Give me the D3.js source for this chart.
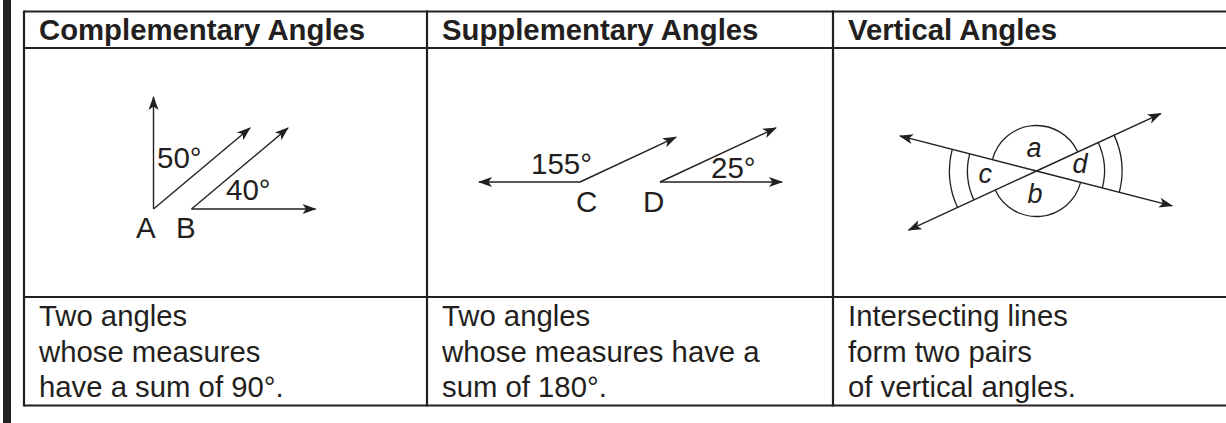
<!DOCTYPE html>
<meta charset="utf-8">
<head>
<style>
  body { margin: 0; background: #fff; }
  svg text { font-family: "Liberation Sans", Arial, sans-serif; fill: #231f20; }
</style>
</head>
<body>
<script src="https://d3js.org/d3.v7.min.js"></script>
<div id="my_dataviz"></div>

<script>
    // table content
    var headers = ["Complementary Angles", "Supplementary Angles", "Vertical Angles"];
    var descriptions = [
      ["Two angles", "whose measures", "have a sum of 90°."],
      ["Two angles", "whose measures have a", "sum of 180°."],
      ["Intersecting lines", "form two pairs", "of vertical angles."]
    ];

    // angle measures shown in the pictures (degrees)
    var complementary = [50, 40];
    var supplementary = [155, 25];
    var verticalLines = [165.6, 24.8];   // direction of the two crossing lines
    var vertLabels = ["a", "b", "c", "d"];

    var width = 1226, height = 423;
    var ink = "#231f20";

    var svg = d3.select("#my_dataviz")
      .append("svg")
        .attr("width", width)
        .attr("height", height);

    // table frame
    var colX = d3.scaleOrdinal().domain([0, 1, 2, 3]).range([24, 427, 833, 1232]);
    var rowY = d3.scaleOrdinal().domain(["top", "head", "desc", "bottom"]).range([11.5, 48, 297, 405.5]);

    // left black bar
    svg.append("rect")
      .attr("x", 3).attr("y", 0)
      .attr("width", 8).attr("height", height)
      .attr("fill", ink);

    var frame = svg.append("g").attr("stroke", ink).attr("stroke-width", 2.2);
    ["top", "head", "desc", "bottom"].forEach(function(r) {
      frame.append("line")
        .attr("x1", colX(0)).attr("x2", colX(3))
        .attr("y1", rowY(r)).attr("y2", rowY(r));
    });
    [0, 1, 2].forEach(function(c) {
      frame.append("line")
        .attr("x1", colX(c)).attr("x2", colX(c))
        .attr("y1", rowY("top") - 1).attr("y2", rowY("bottom") + 1);
    });

    // headers
    svg.selectAll(".head")
      .data(headers)
      .enter().append("text")
        .attr("class", "head")
        .attr("x", function(d, i) { return colX(i) + 15; })
        .attr("y", 40)
        .attr("font-size", "29.3px")
        .attr("font-weight", "bold")
        .text(function(d) { return d; });

    // descriptions
    descriptions.forEach(function(lines, i) {
      svg.selectAll(".desc" + i)
        .data(lines)
        .enter().append("text")
          .attr("x", colX(i) + 15)
          .attr("y", function(d, j) { return 326 + j * 35.5; })
          .attr("font-size", "29.3px")
          .text(function(d) { return d; });
    });

    // arrow marker
    svg.append("defs").append("marker")
      .attr("id", "arrow")
      .attr("viewBox", "-14 -6 16 12")
      .attr("refX", 0).attr("refY", 0)
      .attr("markerWidth", 16).attr("markerHeight", 12)
      .attr("markerUnits", "userSpaceOnUse")
      .attr("orient", "auto")
      .append("path")
        .attr("d", "M1,0 L-13,-5 L-9.5,0 L-13,5 Z")
        .attr("fill", ink);

    var rad = function(deg) { return deg * Math.PI / 180; };
    var line = d3.line();

    // draw a ray from a vertex at a given angle (deg, math direction) and length
    function ray(g, vx, vy, deg, len) {
      g.append("path")
        .attr("d", line([[vx, vy], [vx + len * Math.cos(rad(deg)), vy - len * Math.sin(rad(deg))]]))
        .attr("fill", "none")
        .attr("stroke", ink)
        .attr("stroke-width", 1.4)
        .attr("marker-end", "url(#arrow)");
    }

    function label(g, x, y, txt, italic) {
      g.append("text")
        .attr("x", x).attr("y", y)
        .attr("font-size", italic ? "27px" : "29.5px")
        .attr("font-style", italic ? "italic" : null)
        .text(txt);
    }

    // ---- Complementary ----
    var g1 = svg.append("g");
    var A = [153.5, 209], B = [191.5, 209];
    ray(g1, A[0], A[1], 90, 112);
    ray(g1, A[0], A[1], complementary[1], 126);
    ray(g1, B[0], B[1], complementary[1], 126);
    ray(g1, B[0], B[1], 0, 124);
    label(g1, 157, 168, complementary[0] + "°");
    label(g1, 226, 200, complementary[1] + "°");
    label(g1, 136, 238, "A");
    label(g1, 176, 238, "B");

    // ---- Supplementary ----
    var g2 = svg.append("g");
    var C = [580, 182], D = [660, 182];
    ray(g2, C[0], C[1], 180, 101);
    ray(g2, C[0], C[1], 180 - supplementary[0], 106);
    ray(g2, D[0], D[1], supplementary[1], 128);
    ray(g2, D[0], D[1], 0, 122);
    label(g2, 531, 174, supplementary[0] + "°");
    label(g2, 711, 178, supplementary[1] + "°");
    label(g2, 576, 212, "C");
    label(g2, 643, 212, "D");

    // ---- Vertical ----
    var g3 = svg.append("g").attr("transform", "translate(1036.5,171)");
    var l1 = verticalLines[0], l2 = verticalLines[1];
    ray(g3, 0, 0, l1, 141);
    ray(g3, 0, 0, l1 + 180, 140);
    ray(g3, 0, 0, l2, 137);
    ray(g3, 0, 0, l2 + 180, 141);

    // d3.arc angles: 0 = up, clockwise
    var toArc = function(deg) { return rad(90 - deg); };
    var arc = d3.arc();
    var arcs = [
      {r: 45.5, from: l2, to: l1},                 // a
      {r: 45.5, from: l2 + 180, to: l1 + 180},     // b
      {r: 69, from: l1, to: l2 + 180},             // c inner
      {r: 87, from: l1, to: l2 + 180},             // c outer
      {r: 68, from: l1 - 180, to: l2},             // d inner
      {r: 85.5, from: l1 - 180, to: l2}            // d outer
    ];
    g3.selectAll(".arc")
      .data(arcs)
      .enter().append("path")
        .attr("d", function(d) {
          return arc({innerRadius: d.r, outerRadius: d.r,
                      startAngle: toArc(d.from), endAngle: toArc(d.to)});
        })
        .attr("fill", "none")
        .attr("stroke", ink)
        .attr("stroke-width", 1.3);

    label(g3, -10, -14, vertLabels[0], true);
    label(g3, -9, 32, vertLabels[1], true);
    label(g3, -58, 12, vertLabels[2], true);
    label(g3, 36, 2, vertLabels[3], true);
</script>
</body>
